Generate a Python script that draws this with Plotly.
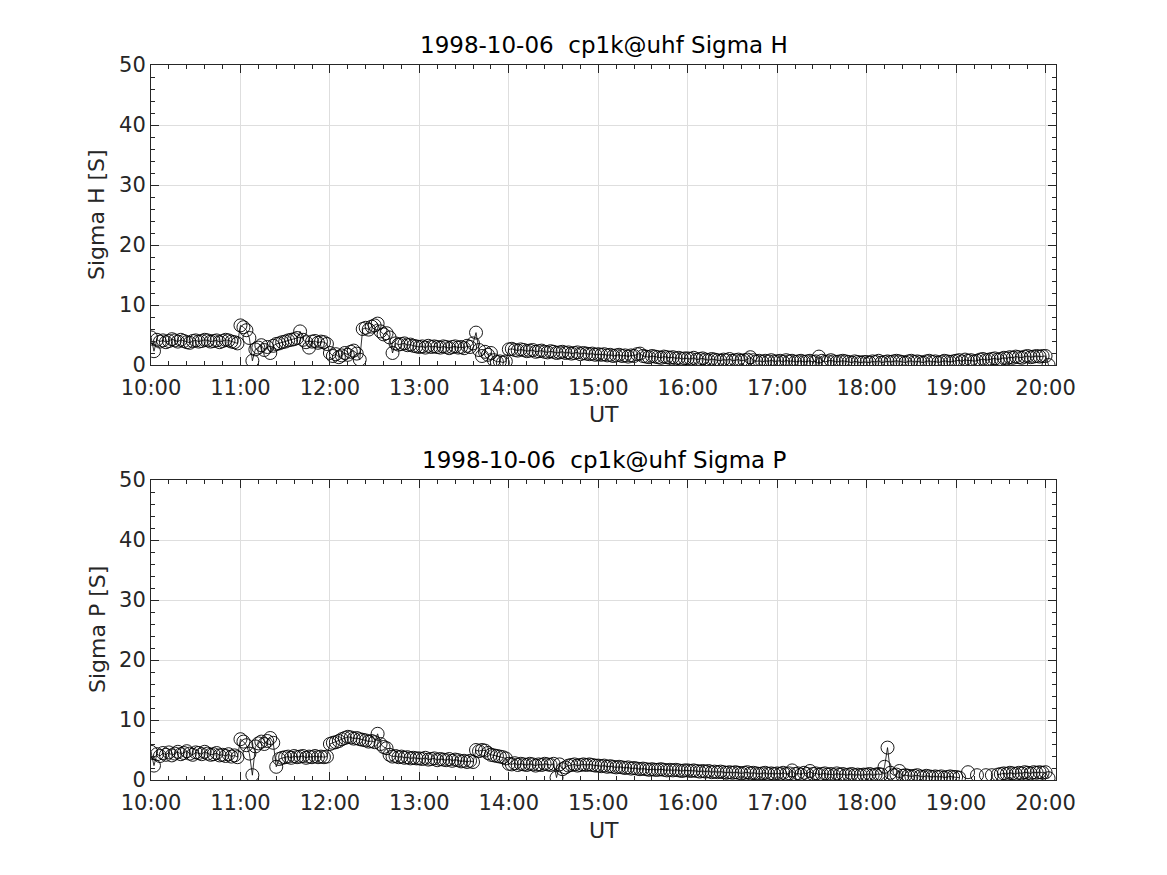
import pandas as pd
import plotly.graph_objects as go

# ---- data (2-minute samples, 10:00 .. 20:02 UT) ----
sigma_h_10 = [4.6,2.3,4.2,3.9,4.1,3.8,4.0,4.3,4.1,3.9,4.2,4.0,3.8,3.7,4.0,4.1,3.9,4.0,4.2,4.1,3.9,4.0,4.1,3.8,4.0,4.2,4.1,3.9,3.8,3.6]
sigma_h_11 = [6.6,6.3,5.8,4.5,0.7,2.6,2.9,3.3,2.5,3.0,2.0,3.2,3.5,3.6,3.8,3.9,4.1,4.2,4.3,4.5,5.6,4.2,3.8,2.9,3.9,4.0,3.7,3.9,3.8,3.5]
sigma_h_12 = [2.0,1.5,1.8,1.3,1.6,2.0,1.7,2.2,2.4,1.9,0.9,6.0,6.2,5.9,6.4,6.6,6.9,5.6,5.1,5.3,4.6,2.0,3.6,3.4,3.5,3.6,3.3,3.4,3.2,3.1]
sigma_h_13 = [3.0,3.1,2.9,3.2,3.0,3.1,3.0,2.9,3.1,3.0,2.8,3.0,3.1,2.9,3.0,2.8,3.2,3.0,3.6,5.4,2.5,1.5,2.2,1.7,2.0,0.8,0.5,0.6,0.4,0.6]
sigma_h_14 = [2.6,2.7,2.5,2.4,2.6,2.5,2.3,2.4,2.5,2.2,2.3,2.4,2.2,2.1,2.3,2.2,2.0,2.1,2.2,2.0,2.1,1.9,2.0,2.1,1.8,2.0,1.9,1.8,1.9,1.7]
sigma_h_15 = [1.8,1.7,1.8,1.6,1.7,1.5,1.6,1.7,1.5,1.6,1.4,1.6,1.5,1.8,1.9,1.5,1.4,1.3,1.5,1.4,1.3,1.2,1.4,1.3,1.2,1.3,1.1,1.2,1.0,1.1]
sigma_h_16 = [1.1,1.0,1.2,0.9,1.0,1.1,0.9,0.8,1.0,0.9,0.8,0.7,0.9,0.8,1.0,0.7,0.8,0.9,0.7,0.8,0.9,1.3,0.8,0.6,0.7,0.5,0.7,0.6,0.8,0.6]
sigma_h_17 = [0.6,0.7,0.5,0.8,0.6,0.7,0.5,0.6,0.7,0.5,0.6,0.7,0.5,0.6,1.4,0.7,0.5,0.6,0.8,0.6,0.5,0.6,0.7,0.6,0.5,0.4,0.6,0.5,0.4,0.5]
sigma_h_18 = [0.5,0.4,0.6,0.5,0.7,0.4,0.5,0.6,0.5,0.6,0.7,0.6,0.5,0.4,0.6,0.7,0.5,0.6,0.5,0.4,0.6,0.7,0.5,0.6,0.4,0.5,0.7,0.6,0.5,0.6]
sigma_h_19 = [0.7,0.8,0.6,0.9,0.7,0.8,0.6,0.7,0.9,1.0,0.8,0.9,1.0,1.1,0.9,1.0,1.2,1.1,1.3,1.2,1.4,1.3,1.2,1.4,1.5,1.3,1.4,1.5,1.4,1.5]
sigma_h_20 = [1.5,0.0]

sigma_p_10 = [4.7,2.4,4.3,4.0,4.5,4.2,4.6,4.1,4.4,4.7,4.3,4.5,4.8,4.4,4.2,4.6,4.5,4.3,4.7,4.4,4.2,4.3,4.5,4.1,4.2,4.0,4.3,3.9,4.1,3.8]
sigma_p_11 = [6.8,6.4,5.8,4.4,0.8,5.6,6.1,6.4,6.0,6.5,7.0,6.2,2.2,3.5,3.7,3.8,3.9,3.7,4.0,3.8,3.9,4.0,3.7,3.9,3.8,4.0,3.8,3.9,3.8,3.9]
sigma_p_12 = [6.0,6.2,6.3,6.5,6.8,7.0,7.2,7.1,6.9,7.0,6.8,6.7,6.6,6.4,6.5,6.3,7.7,6.0,5.5,5.3,4.2,3.9,4.0,3.8,3.9,3.7,3.8,3.6,3.7,3.6]
sigma_p_13 = [3.6,3.5,3.7,3.4,3.5,3.6,3.3,3.5,3.4,3.3,3.5,3.2,3.4,3.3,3.1,3.2,3.0,3.2,3.0,5.0,4.8,5.0,4.9,4.5,4.2,4.1,4.0,3.9,3.8,3.6]
sigma_p_14 = [2.7,2.6,2.8,2.5,2.7,2.6,2.5,2.7,2.6,2.4,2.6,2.5,2.7,2.6,2.5,2.7,0.4,2.6,1.8,2.1,2.4,2.5,2.6,2.4,2.5,2.6,2.5,2.6,2.5,2.4]
sigma_p_15 = [2.4,2.3,2.4,2.2,2.3,2.2,2.1,2.2,2.1,2.0,2.1,1.9,2.0,1.9,1.8,1.9,1.8,1.7,1.8,1.7,1.7,1.8,1.7,1.6,1.7,1.6,1.7,1.6,1.5,1.6]
sigma_p_16 = [1.6,1.5,1.6,1.5,1.4,1.5,1.4,1.5,1.3,1.4,1.3,1.4,1.3,1.2,1.3,1.2,1.3,1.2,1.1,1.2,1.3,1.1,1.2,1.1,1.0,1.1,1.2,1.0,1.1,1.0]
sigma_p_17 = [1.1,1.0,1.2,1.0,1.1,1.6,1.0,1.1,0.9,1.2,1.0,1.5,1.0,1.1,0.9,1.0,1.1,0.9,1.0,0.8,1.1,0.9,1.0,0.8,0.9,1.0,0.8,0.9,0.8,0.9]
sigma_p_18 = [0.9,1.0,0.8,0.9,1.0,0.9,2.2,5.4,1.2,0.8,0.9,1.5,0.7,0.8,0.7,0.6,0.7,0.8,0.6,0.5,0.7,0.6,0.5,0.6,0.5,0.6,0.4,0.5,0.6,0.5]
sigma_p_19 = [0.5,0.4,None,None,1.3,None,None,0.8,None,None,0.8,None,0.8,None,0.9,1.0,1.1,1.0,1.2,1.1,1.0,1.2,1.1,1.3,1.2,1.1,1.3,1.2,1.3,1.2]
sigma_p_20 = [1.3,0.3]

sigma_h = (sigma_h_10 + sigma_h_11 + sigma_h_12 + sigma_h_13 + sigma_h_14 + sigma_h_15
           + sigma_h_16 + sigma_h_17 + sigma_h_18 + sigma_h_19 + sigma_h_20)
sigma_p = (sigma_p_10 + sigma_p_11 + sigma_p_12 + sigma_p_13 + sigma_p_14 + sigma_p_15
           + sigma_p_16 + sigma_p_17 + sigma_p_18 + sigma_p_19 + sigma_p_20)

times = pd.date_range("1998-10-06 10:00", periods=len(sigma_h), freq="2min")

x_ticks = pd.date_range("1998-10-06 10:00", "1998-10-06 20:00", freq="1h")
x_tick_labels = [t.strftime("%H:%M") for t in x_ticks]
y_ticks = [0, 10, 20, 30, 40, 50]

titles = ["1998-10-06  cp1k@uhf Sigma H", "1998-10-06  cp1k@uhf Sigma P"]
ylabels = ["Sigma H [S]", "Sigma P [S]"]
xlabel = "UT"

# ---- figure ----
W, H = 1167, 875
OFF = 8  # page body margin
FONT = "DejaVu Sans"
AX = "#262626"

fig = go.Figure()
series = [sigma_h, sigma_p]
for i, s in enumerate(series):
    fig.add_trace(go.Scatter(
        x=times, y=s, mode="lines+markers",
        line=dict(color="black", width=0.8),
        marker=dict(symbol="circle-open", size=13, color="black",
                    line=dict(width=0.9, color="black")),
        connectgaps=False, showlegend=False,
        xaxis="x" if i == 0 else "x2", yaxis="y" if i == 0 else "y2"))

def px_x(p):
    return (p - OFF) / W

def px_y(p):
    return 1 - (p - OFF) / H

x0, x1 = px_x(151), px_x(1056)
axes_px = [(65, 365), (480, 780)]
doms = [(px_y(b), px_y(t)) for t, b in axes_px]

xr = ["1998-10-06 10:00", "1998-10-06 20:07"]

def xaxis_cfg(anchor):
    return dict(domain=[x0, x1], anchor=anchor, range=xr, type="date",
                automargin=False,
                tickvals=list(x_ticks), ticktext=x_tick_labels,
                ticks="inside", ticklen=8, tickwidth=1, tickcolor=AX,
                ticklabelstandoff=4,
                showline=True, linecolor=AX, linewidth=1, mirror="allticks",
                showgrid=True, gridcolor="#dedede", gridwidth=1,
                zeroline=False,
                tickfont=dict(family=FONT, size=21, color=AX),
                minor=dict(dtick=12 * 60 * 1000, ticks="inside", ticklen=4,
                           tickcolor=AX, showgrid=False))

def yaxis_cfg(anchor, dom):
    return dict(domain=list(dom), anchor=anchor, range=[0, 50],
                automargin=False,
                tickvals=y_ticks, ticks="inside", ticklen=8, tickwidth=1,
                tickcolor=AX, showline=True, linecolor=AX, linewidth=1,
                mirror="allticks", showgrid=True, gridcolor="#dedede",
                gridwidth=1, zeroline=False,
                tickfont=dict(family=FONT, size=21, color=AX),
                minor=dict(dtick=2, ticks="inside", ticklen=4, tickcolor=AX,
                           showgrid=False))

fig.update_layout(
    width=W, height=H, margin=dict(l=0, r=0, t=0, b=0, autoexpand=False),
    paper_bgcolor="white", plot_bgcolor="white",
    xaxis=xaxis_cfg("y"), yaxis=yaxis_cfg("x", doms[0]),
    xaxis2=xaxis_cfg("y2"), yaxis2=yaxis_cfg("x2", doms[1]),
    font=dict(family=FONT, color=AX),
)

ann = []
xc = (x0 + x1) / 2
for i, (top_px, bot_px) in enumerate(axes_px):
    ann.append(dict(text=titles[i], x=xc, y=px_y(top_px - 20),
                    xref="paper", yref="paper", showarrow=False,
                    xanchor="center", yanchor="middle",
                    font=dict(family=FONT, size=23, color="black")))
    ann.append(dict(text=xlabel, x=xc, y=px_y(bot_px + 50),
                    xref="paper", yref="paper", showarrow=False,
                    xanchor="center", yanchor="middle",
                    font=dict(family=FONT, size=22, color=AX)))
    ann.append(dict(text=ylabels[i], x=px_x(97), y=px_y((top_px + bot_px) / 2),
                    xref="paper", yref="paper", showarrow=False, textangle=-90,
                    xanchor="center", yanchor="middle",
                    font=dict(family=FONT, size=22, color=AX)))
fig.update_layout(annotations=ann)

fig.write_html("out.html")
